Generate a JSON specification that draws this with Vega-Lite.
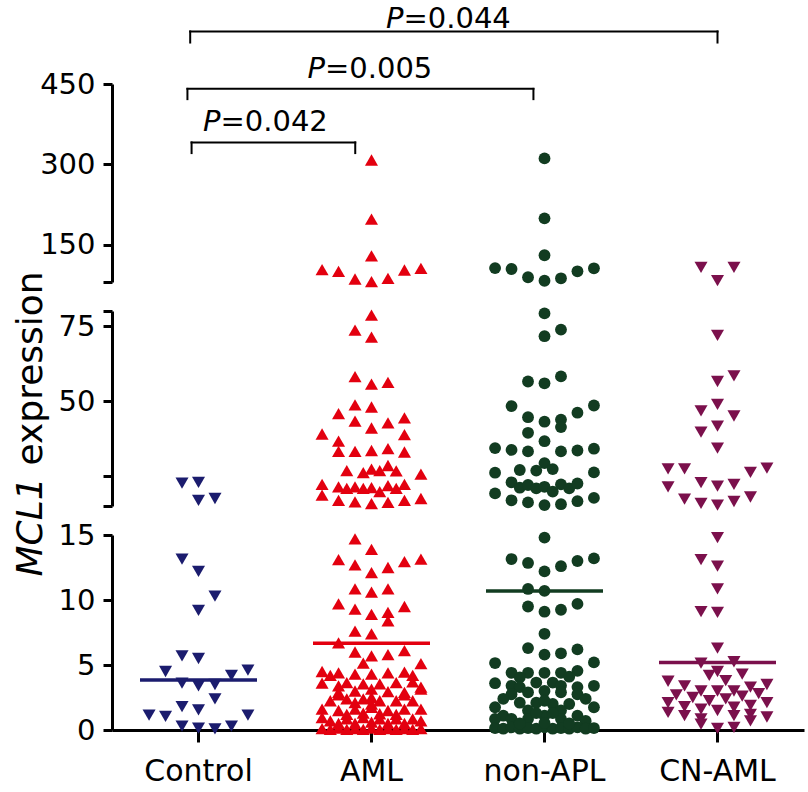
{
"$schema": "https://vega.github.io/schema/vega-lite/v6.json",
"padding": {"top": 4, "left": 12, "right": 5, "bottom": 5},
"background": "white",
"bounds": "flush",
"spacing": 29,
"datasets": {
"br": [
{"x1": 0.46, "x2": 1.406, "yh": 340.8, "yd": 320.9, "xt": 0.627, "yt": 361.9, "p": "=0.042"},
{"x1": 0.436, "x2": 2.436, "yh": 440.9, "yd": 421.7, "xt": 1.231, "yt": 460.9, "p": "=0.005"},
{"x1": 0.452, "x2": 3.5, "yh": 548.1, "yd": 527.5, "xt": 1.685, "yt": 555.5, "p": "=0.044"}
],
"med": [
{"g": "Control", "v": 3.85}, {"g": "AML", "v": 6.67}, {"g": "non-APL", "v": 10.7}, {"g": "CN-AML", "v": 5.2}
],
"pts": [
{"g":"Control","s":-1,"v":22.6},{"g":"Control","s":0,"v":22.9},{"g":"Control","s":0,"v":16.9},{"g":"Control","s":1,"v":17.5},
{"g":"Control","s":-1,"v":13.15},{"g":"Control","s":0,"v":12.2},{"g":"Control","s":1,"v":10.3},{"g":"Control","s":0,"v":9.2},
{"g":"Control","s":-1,"v":5.7},{"g":"Control","s":0,"v":5.5},{"g":"Control","s":-2,"v":4.5},{"g":"Control","s":3,"v":4.6},
{"g":"Control","s":2,"v":4.2},{"g":"Control","s":-1,"v":3.6},{"g":"Control","s":0,"v":3.4},{"g":"Control","s":1,"v":3.5},
{"g":"Control","s":1,"v":2.4},{"g":"Control","s":-1,"v":1.8},{"g":"Control","s":0,"v":1.55},{"g":"Control","s":-3,"v":1.15},
{"g":"Control","s":-2,"v":1.05},{"g":"Control","s":3,"v":1.15},{"g":"Control","s":-1,"v":0.3},{"g":"Control","s":0,"v":0.15},
{"g":"Control","s":1,"v":0.08},{"g":"Control","s":2,"v":0.3},

{"g":"AML","s":0,"v":308},{"g":"AML","s":0,"v":197.6},{"g":"AML","s":0,"v":129},{"g":"AML","s":-3,"v":103},{"g":"AML","s":-2,"v":100},
{"g":"AML","s":-1,"v":85.6},{"g":"AML","s":0,"v":80.6},{"g":"AML","s":1,"v":86.9},{"g":"AML","s":2,"v":102.4},{"g":"AML","s":3,"v":105.6},
{"g":"AML","s":0,"v":78.6},{"g":"AML","s":-1,"v":73.6},{"g":"AML","s":0,"v":71.3},{"g":"AML","s":-1,"v":58.1},{"g":"AML","s":0,"v":55.6},
{"g":"AML","s":1,"v":56.2},{"g":"AML","s":-1,"v":48.7},{"g":"AML","s":0,"v":48.0},{"g":"AML","s":-2,"v":45.8},{"g":"AML","s":-1,"v":43.3},
{"g":"AML","s":0,"v":41.0},{"g":"AML","s":1,"v":42.7},{"g":"AML","s":2,"v":44.4},{"g":"AML","s":-3,"v":39.0},{"g":"AML","s":2,"v":38.8},
{"g":"AML","s":-2,"v":36.6},{"g":"AML","s":-2,"v":33.2},{"g":"AML","s":-1,"v":33.2},{"g":"AML","s":0,"v":33.5},{"g":"AML","s":1,"v":34.1},
{"g":"AML","s":2,"v":33.0},{"g":"AML","s":-1.5,"v":26.8},{"g":"AML","s":-0.5,"v":26.1},{"g":"AML","s":0,"v":27.3},{"g":"AML","s":0.5,"v":26.8},
{"g":"AML","s":1,"v":28.5},{"g":"AML","s":1.5,"v":26.7},{"g":"AML","s":3,"v":25.6},{"g":"AML","s":-3,"v":22.2},{"g":"AML","s":-2,"v":21.4},
{"g":"AML","s":-1.5,"v":20.9},{"g":"AML","s":-1,"v":21.4},{"g":"AML","s":-0.5,"v":20.9},{"g":"AML","s":0,"v":21.1},{"g":"AML","s":0.5,"v":19.8},
{"g":"AML","s":1,"v":21.8},{"g":"AML","s":1.5,"v":20.9},{"g":"AML","s":2,"v":22.2},{"g":"AML","s":-3,"v":18.6},{"g":"AML","s":-2,"v":16.9},
{"g":"AML","s":-1,"v":16.4},{"g":"AML","s":0,"v":15.8},{"g":"AML","s":1,"v":16.2},{"g":"AML","s":2,"v":16.9},{"g":"AML","s":3,"v":17.5},
{"g":"AML","s":-1,"v":14.7},{"g":"AML","s":0,"v":13.9},{"g":"AML","s":-2,"v":13.1},{"g":"AML","s":-1,"v":12.7},{"g":"AML","s":0,"v":12.1},
{"g":"AML","s":1,"v":12.5},{"g":"AML","s":2,"v":12.95},{"g":"AML","s":3,"v":13.15},{"g":"AML","s":-1,"v":10.85},{"g":"AML","s":0,"v":10.6},
{"g":"AML","s":1,"v":10.85},{"g":"AML","s":-2,"v":9.7},{"g":"AML","s":-1,"v":9.3},{"g":"AML","s":0,"v":8.9},{"g":"AML","s":1,"v":9.05},
{"g":"AML","s":2,"v":9.5},{"g":"AML","s":1,"v":8.4},{"g":"AML","s":-1,"v":7.6},{"g":"AML","s":0,"v":7.4},{"g":"AML","s":-2,"v":6.7},
{"g":"AML","s":-1,"v":6.0},{"g":"AML","s":0,"v":5.7},{"g":"AML","s":1,"v":5.8},{"g":"AML","s":2,"v":6.1},{"g":"AML","s":-0.5,"v":5.15},
{"g":"AML","s":3,"v":5.1},
{"g":"AML","s":-3,"v":4.5},{"g":"AML","s":-2.5,"v":4.2},{"g":"AML","s":-2,"v":4.4},{"g":"AML","s":-1,"v":4.3},{"g":"AML","s":0,"v":4.3},
{"g":"AML","s":1,"v":4.4},{"g":"AML","s":2,"v":4.45},{"g":"AML","s":2.5,"v":4.2},
{"g":"AML","s":-3,"v":3.6},{"g":"AML","s":-2,"v":3.4},{"g":"AML","s":-1.5,"v":3.65},{"g":"AML","s":-0.5,"v":3.55},{"g":"AML","s":0.5,"v":3.55},
{"g":"AML","s":1.5,"v":3.65},{"g":"AML","s":2.5,"v":3.7},{"g":"AML","s":3,"v":3.3},
{"g":"AML","s":-2,"v":2.9},{"g":"AML","s":-1,"v":3.0},{"g":"AML","s":0,"v":3.15},{"g":"AML","s":1,"v":2.95},{"g":"AML","s":2,"v":2.9},{"g":"AML","s":3,"v":3.15},
{"g":"AML","s":-2.5,"v":2.25},{"g":"AML","s":-1.5,"v":2.4},{"g":"AML","s":-1,"v":2.1},{"g":"AML","s":-0.5,"v":2.4},{"g":"AML","s":0,"v":2.5},
{"g":"AML","s":0.5,"v":2.25},{"g":"AML","s":1.5,"v":2.25},{"g":"AML","s":2.5,"v":2.25},
{"g":"AML","s":-3,"v":1.6},{"g":"AML","s":-2,"v":1.5},{"g":"AML","s":-1,"v":1.6},{"g":"AML","s":0,"v":1.75},{"g":"AML","s":1,"v":1.5},
{"g":"AML","s":2,"v":1.6},{"g":"AML","s":3,"v":1.6},
{"g":"AML","s":-3,"v":0.95},{"g":"AML","s":-2.5,"v":0.7},{"g":"AML","s":-1.5,"v":0.85},{"g":"AML","s":-0.5,"v":0.95},{"g":"AML","s":0.5,"v":0.85},
{"g":"AML","s":1.5,"v":0.85},{"g":"AML","s":2.5,"v":0.85},{"g":"AML","s":3,"v":0.7},
{"g":"AML","s":-3,"v":0.1},{"g":"AML","s":-2.5,"v":0.05},{"g":"AML","s":-2,"v":0.15},{"g":"AML","s":-1.5,"v":0.05},{"g":"AML","s":-1,"v":0.1},
{"g":"AML","s":-0.5,"v":0.05},{"g":"AML","s":0,"v":0.15},{"g":"AML","s":0.5,"v":0.05},{"g":"AML","s":1,"v":0.1},{"g":"AML","s":1.5,"v":0.05},
{"g":"AML","s":2,"v":0.1},{"g":"AML","s":2.5,"v":0.05},{"g":"AML","s":3,"v":0.1},
{"g":"AML","s":-1.5,"v":1.2},{"g":"AML","s":0.5,"v":1.25},{"g":"AML","s":-0.5,"v":1.3},{"g":"AML","s":1.5,"v":1.2},{"g":"AML","s":-2,"v":2.7},
{"g":"AML","s":2,"v":2.7},{"g":"AML","s":0,"v":2.0},{"g":"AML","s":-1,"v":0.5},{"g":"AML","s":1,"v":0.5},{"g":"AML","s":0,"v":0.6},
{"g":"AML","s":-2,"v":0.5},{"g":"AML","s":2,"v":0.5},

{"g":"non-APL","s":0,"v":311},{"g":"non-APL","s":0,"v":199},{"g":"non-APL","s":0,"v":130},{"g":"non-APL","s":-3,"v":106},{"g":"non-APL","s":-2,"v":104.3},
{"g":"non-APL","s":-1,"v":88.8},{"g":"non-APL","s":0,"v":82.4},{"g":"non-APL","s":1,"v":86.9},{"g":"non-APL","s":2,"v":100},{"g":"non-APL","s":3,"v":105.6},
{"g":"non-APL","s":0,"v":79.2},{"g":"non-APL","s":1,"v":73.8},{"g":"non-APL","s":0,"v":71.6},{"g":"non-APL","s":-1,"v":56.5},{"g":"non-APL","s":0,"v":55.9},
{"g":"non-APL","s":1,"v":58.2},{"g":"non-APL","s":-2,"v":48.3},{"g":"non-APL","s":3,"v":48.5},{"g":"non-APL","s":-1,"v":44.6},{"g":"non-APL","s":0,"v":43.1},
{"g":"non-APL","s":1,"v":43.8},{"g":"non-APL","s":1,"v":41.3},{"g":"non-APL","s":2,"v":46.1},{"g":"non-APL","s":-1,"v":39.4},{"g":"non-APL","s":0,"v":36.6},
{"g":"non-APL","s":-3,"v":34.3},{"g":"non-APL","s":-2,"v":33.7},{"g":"non-APL","s":-1,"v":33.2},{"g":"non-APL","s":1,"v":33.2},{"g":"non-APL","s":2,"v":33.5},
{"g":"non-APL","s":3,"v":34.1},{"g":"non-APL","s":-3,"v":26.1},{"g":"non-APL","s":-1.5,"v":27.0},{"g":"non-APL","s":-0.5,"v":26.8},{"g":"non-APL","s":0,"v":29.3},
{"g":"non-APL","s":0.5,"v":27.3},{"g":"non-APL","s":3,"v":26.2},{"g":"non-APL","s":-2,"v":22.9},{"g":"non-APL","s":-1.5,"v":21.1},{"g":"non-APL","s":-1,"v":22.0},
{"g":"non-APL","s":-0.5,"v":20.9},{"g":"non-APL","s":0,"v":21.4},{"g":"non-APL","s":0.5,"v":19.8},{"g":"non-APL","s":1,"v":22.2},{"g":"non-APL","s":1.5,"v":20.9},
{"g":"non-APL","s":2,"v":22.5},{"g":"non-APL","s":-3,"v":19.2},{"g":"non-APL","s":-2,"v":16.9},{"g":"non-APL","s":-1,"v":16.2},{"g":"non-APL","s":0,"v":15.3},
{"g":"non-APL","s":1,"v":15.6},{"g":"non-APL","s":2,"v":16.6},{"g":"non-APL","s":3,"v":17.7},
{"g":"non-APL","s":0,"v":14.8},{"g":"non-APL","s":-2,"v":13.15},{"g":"non-APL","s":-1,"v":12.85},{"g":"non-APL","s":0,"v":12.2},{"g":"non-APL","s":1,"v":12.6},
{"g":"non-APL","s":2,"v":13.0},{"g":"non-APL","s":3,"v":13.2},{"g":"non-APL","s":-1,"v":10.85},{"g":"non-APL","s":0,"v":10.7},{"g":"non-APL","s":-1,"v":9.5},
{"g":"non-APL","s":0,"v":9.1},{"g":"non-APL","s":1,"v":9.25},{"g":"non-APL","s":2,"v":9.7},{"g":"non-APL","s":0,"v":7.4},{"g":"non-APL","s":-1,"v":6.3},
{"g":"non-APL","s":0,"v":5.8},{"g":"non-APL","s":1,"v":5.9},{"g":"non-APL","s":2,"v":6.2},{"g":"non-APL","s":-3,"v":5.15},{"g":"non-APL","s":3,"v":5.2},
{"g":"non-APL","s":-2,"v":4.4},{"g":"non-APL","s":-1,"v":4.4},{"g":"non-APL","s":0,"v":4.4},{"g":"non-APL","s":1,"v":4.4},{"g":"non-APL","s":2,"v":4.55},
{"g":"non-APL","s":-1.5,"v":4.05},{"g":"non-APL","s":1.5,"v":4.1},
{"g":"non-APL","s":-3,"v":3.6},{"g":"non-APL","s":-2,"v":3.4},{"g":"non-APL","s":-0.5,"v":3.65},{"g":"non-APL","s":0.5,"v":3.65},{"g":"non-APL","s":1,"v":3.4},
{"g":"non-APL","s":3,"v":3.4},{"g":"non-APL","s":-1.5,"v":3.3},{"g":"non-APL","s":2,"v":3.3},
{"g":"non-APL","s":-2,"v":2.75},{"g":"non-APL","s":-1,"v":2.9},{"g":"non-APL","s":0,"v":3.0},{"g":"non-APL","s":1,"v":2.9},{"g":"non-APL","s":2,"v":2.75},
{"g":"non-APL","s":-2.5,"v":2.4},{"g":"non-APL","s":2.5,"v":2.4},
{"g":"non-APL","s":-3,"v":1.75},{"g":"non-APL","s":-1.5,"v":2.1},{"g":"non-APL","s":-0.5,"v":2.1},{"g":"non-APL","s":0.5,"v":2.0},{"g":"non-APL","s":1.5,"v":2.0},
{"g":"non-APL","s":3,"v":1.75},{"g":"non-APL","s":-1,"v":1.5},{"g":"non-APL","s":1,"v":1.5},{"g":"non-APL","s":0,"v":2.25},
{"g":"non-APL","s":-2.5,"v":1.1},{"g":"non-APL","s":-2,"v":0.85},{"g":"non-APL","s":-1,"v":0.85},{"g":"non-APL","s":0,"v":1.1},{"g":"non-APL","s":1,"v":0.85},
{"g":"non-APL","s":2,"v":1.1},{"g":"non-APL","s":2.5,"v":0.7},{"g":"non-APL","s":-3,"v":0.85},
{"g":"non-APL","s":-3,"v":0.15},{"g":"non-APL","s":-2.5,"v":0.1},{"g":"non-APL","s":-2,"v":0.2},{"g":"non-APL","s":-1.5,"v":0.1},{"g":"non-APL","s":-1,"v":0.15},
{"g":"non-APL","s":-0.5,"v":0.1},{"g":"non-APL","s":0,"v":0.2},{"g":"non-APL","s":0.5,"v":0.1},{"g":"non-APL","s":1,"v":0.15},{"g":"non-APL","s":1.5,"v":0.1},
{"g":"non-APL","s":2,"v":0.2},{"g":"non-APL","s":2.5,"v":0.1},{"g":"non-APL","s":3,"v":0.15},
{"g":"non-APL","s":-0.5,"v":1.3},{"g":"non-APL","s":0.5,"v":1.3},{"g":"non-APL","s":-1.5,"v":0.5},{"g":"non-APL","s":1.5,"v":0.5},{"g":"non-APL","s":0,"v":0.55},

{"g":"CN-AML","s":-1,"v":107.4},{"g":"CN-AML","s":1,"v":107.4},{"g":"CN-AML","s":0,"v":82.4},
{"g":"CN-AML","s":0,"v":71.9},{"g":"CN-AML","s":0,"v":56.5},{"g":"CN-AML","s":1,"v":58.4},{"g":"CN-AML","s":0,"v":48.9},{"g":"CN-AML","s":-1,"v":46.7},
{"g":"CN-AML","s":1,"v":45.0},{"g":"CN-AML","s":0,"v":41.6},{"g":"CN-AML","s":-1,"v":39.6},{"g":"CN-AML","s":0,"v":34.3},{"g":"CN-AML","s":-3,"v":27.4},
{"g":"CN-AML","s":-2,"v":27.4},{"g":"CN-AML","s":2,"v":26.2},{"g":"CN-AML","s":3,"v":27.6},{"g":"CN-AML","s":-3,"v":21.4},{"g":"CN-AML","s":-1,"v":22.8},
{"g":"CN-AML","s":0,"v":21.6},{"g":"CN-AML","s":1,"v":22.2},{"g":"CN-AML","s":-2,"v":17.3},{"g":"CN-AML","s":-1,"v":15.9},{"g":"CN-AML","s":0,"v":15.3},
{"g":"CN-AML","s":1,"v":16.5},{"g":"CN-AML","s":2,"v":18.0},
{"g":"CN-AML","s":0,"v":14.8},{"g":"CN-AML","s":-1,"v":13.1},{"g":"CN-AML","s":0,"v":12.6},{"g":"CN-AML","s":0,"v":10.85},{"g":"CN-AML","s":-1,"v":9.1},
{"g":"CN-AML","s":0,"v":9.05},{"g":"CN-AML","s":0,"v":6.3},{"g":"CN-AML","s":-1,"v":5.15},{"g":"CN-AML","s":1,"v":5.25},
{"g":"CN-AML","s":-0.5,"v":4.2},{"g":"CN-AML","s":0,"v":4.5},{"g":"CN-AML","s":0.5,"v":3.8},{"g":"CN-AML","s":1.5,"v":4.3},
{"g":"CN-AML","s":-3,"v":3.75},{"g":"CN-AML","s":-2,"v":3.4},{"g":"CN-AML","s":-1,"v":3.0},{"g":"CN-AML","s":0,"v":3.0},{"g":"CN-AML","s":1,"v":3.0},
{"g":"CN-AML","s":2,"v":3.3},{"g":"CN-AML","s":3,"v":3.5},{"g":"CN-AML","s":2.5,"v":2.8},
{"g":"CN-AML","s":-2.5,"v":2.7},{"g":"CN-AML","s":-1.5,"v":2.5},{"g":"CN-AML","s":-0.5,"v":2.25},{"g":"CN-AML","s":0.5,"v":2.4},{"g":"CN-AML","s":1.5,"v":2.6},
{"g":"CN-AML","s":-3,"v":2.1},{"g":"CN-AML","s":-2,"v":1.8},{"g":"CN-AML","s":-1,"v":1.6},{"g":"CN-AML","s":0,"v":1.5},{"g":"CN-AML","s":1,"v":1.75},
{"g":"CN-AML","s":2,"v":1.9},{"g":"CN-AML","s":3,"v":2.1},
{"g":"CN-AML","s":-3,"v":1.35},{"g":"CN-AML","s":-2,"v":1.1},{"g":"CN-AML","s":-1,"v":0.85},{"g":"CN-AML","s":1,"v":1.1},{"g":"CN-AML","s":2,"v":1.2},
{"g":"CN-AML","s":3,"v":1.0},{"g":"CN-AML","s":-1,"v":0.45},{"g":"CN-AML","s":0,"v":0.13},{"g":"CN-AML","s":1,"v":0.2},{"g":"CN-AML","s":2,"v":0.7}
]
},
"vconcat": [
{
"width": 692, "height": 198,
"layer": [
{
"data": {"name": "pts"},
"transform": [{"filter": "datum.v >= 80"}],
"mark": {"type": "point", "filled": true, "opacity": 1, "strokeWidth": 0},
"encoding": {
"x": {"field": "g", "type": "nominal", "scale": {"type": "band", "domain": ["Control", "AML", "non-APL", "CN-AML"], "paddingInner": 0, "paddingOuter": 0}, "axis": null},
"xOffset": {"field": "s", "type": "quantitative", "scale": {"domain": [-5.25, 5.25], "range": [0, 173]}},
"y": {"field": "v", "type": "quantitative", "scale": {"domain": [80, 450], "nice": false, "zero": false},
"axis": {"title": null, "values": [80, 150, 300, 450], "labelExpr": "datum.value == 80 ? '' : datum.label", "tickSize": 9, "labelFontSize": 29, "labelPadding": 8, "labelFlush": false}},
"color": {"field": "g", "type": "nominal", "scale": {"domain": ["Control", "AML", "non-APL", "CN-AML"], "range": ["#1b1c6e", "#e3000f", "#123c21", "#7b104c"]}, "legend": null},
"shape": {"field": "g", "type": "nominal", "scale": {"domain": ["Control", "AML", "non-APL", "CN-AML"], "range": ["triangle-down", "triangle-up", "circle", "triangle-down"]}, "legend": null},
"size": {"condition": {"test": "datum.g === 'non-APL'", "value": 140}, "value": 170}
}
},
{
"data": {"name": "br"},
"layer": [
{"mark": {"type": "rule", "color": "black", "strokeWidth": 2, "strokeCap": "square"},
"encoding": {"x": {"field": "x1", "type": "quantitative", "scale": {"domain": [0, 4], "nice": false, "zero": false}, "axis": null}, "x2": {"field": "x2"},
"y": {"field": "yh", "type": "quantitative", "scale": {"domain": [80, 450], "nice": false, "zero": false}, "axis": null}}},
{"mark": {"type": "rule", "color": "black", "strokeWidth": 2, "strokeCap": "square"},
"encoding": {"x": {"field": "x1", "type": "quantitative", "scale": {"domain": [0, 4], "nice": false, "zero": false}, "axis": null},
"y": {"field": "yh", "type": "quantitative", "scale": {"domain": [80, 450], "nice": false, "zero": false}, "axis": null}, "y2": {"field": "yd"}}},
{"mark": {"type": "rule", "color": "black", "strokeWidth": 2, "strokeCap": "square"},
"encoding": {"x": {"field": "x2", "type": "quantitative", "scale": {"domain": [0, 4], "nice": false, "zero": false}, "axis": null},
"y": {"field": "yh", "type": "quantitative", "scale": {"domain": [80, 450], "nice": false, "zero": false}, "axis": null}, "y2": {"field": "yd"}}},
{"mark": {"type": "text", "align": "right", "baseline": "alphabetic", "fontSize": 29, "fontStyle": "italic", "font": "DejaVu Sans", "color": "black", "text": "P"},
"encoding": {"x": {"field": "xt", "type": "quantitative", "scale": {"domain": [0, 4], "nice": false, "zero": false}, "axis": null},
"y": {"field": "yt", "type": "quantitative", "scale": {"domain": [80, 450], "nice": false, "zero": false}, "axis": null}}},
{"mark": {"type": "text", "align": "left", "baseline": "alphabetic", "fontSize": 29, "font": "DejaVu Sans", "color": "black"},
"encoding": {"x": {"field": "xt", "type": "quantitative", "scale": {"domain": [0, 4], "nice": false, "zero": false}, "axis": null},
"y": {"field": "yt", "type": "quantitative", "scale": {"domain": [80, 450], "nice": false, "zero": false}, "axis": null},
"text": {"field": "p"}}}
]
}
],
"resolve": {"scale": {"x": "independent", "y": "independent"}, "axis": {"x": "independent", "y": "independent"}}
},
{
"width": 692, "height": 195,
"data": {"name": "pts"},
"transform": [{"filter": "datum.v >= 15 && datum.v < 80"}],
"layer": [
{
"mark": {"type": "point", "filled": true, "opacity": 1, "strokeWidth": 0},
"encoding": {
"x": {"field": "g", "type": "nominal", "scale": {"type": "band", "domain": ["Control", "AML", "non-APL", "CN-AML"], "paddingInner": 0, "paddingOuter": 0}, "axis": null},
"xOffset": {"field": "s", "type": "quantitative", "scale": {"domain": [-5.25, 5.25], "range": [0, 173]}},
"y": {"field": "v", "type": "quantitative", "scale": {"domain": [15, 80], "nice": false, "zero": false},
"axis": {"orient": "left", "title": "MCL1", "values": [15, 25, 50, 75, 80], "labelExpr": "datum.value == 50 || datum.value == 75 ? datum.label : ''", "tickSize": 9, "labelFontSize": 29, "labelPadding": 8, "labelFlush": false,
"titleFontSize": 36, "titleFontStyle": "italic", "titleFontWeight": "normal", "titleAngle": 270, "titleAlign": "left", "titleBaseline": "bottom", "titleX": -63, "titleY": 265}},
"color": {"field": "g", "type": "nominal", "scale": {"domain": ["Control", "AML", "non-APL", "CN-AML"], "range": ["#1b1c6e", "#e3000f", "#123c21", "#7b104c"]}, "legend": null},
"shape": {"field": "g", "type": "nominal", "scale": {"domain": ["Control", "AML", "non-APL", "CN-AML"], "range": ["triangle-down", "triangle-up", "circle", "triangle-down"]}, "legend": null},
"size": {"condition": {"test": "datum.g === 'non-APL'", "value": 140}, "value": 170}
}
},
{
"mark": {"type": "point", "opacity": 0, "size": 1},
"encoding": {
"x": {"field": "g", "type": "nominal", "scale": {"type": "band", "domain": ["Control", "AML", "non-APL", "CN-AML"], "paddingInner": 0, "paddingOuter": 0}, "axis": null},
"y": {"field": "v", "type": "quantitative", "scale": {"domain": [15, 80], "nice": false, "zero": false},
"axis": {"orient": "right", "title": "expression", "domain": false, "ticks": false, "labels": false,
"titleFontSize": 36, "titleFontStyle": "normal", "titleFontWeight": "normal", "titleAngle": 270, "titleAlign": "left", "titleBaseline": "bottom", "titleX": -755, "titleY": 154}}
}
}
],
"resolve": {"axis": {"y": "independent"}}
},
{
"width": 692, "height": 195,
"layer": [
{
"data": {"name": "pts"},
"transform": [{"filter": "datum.v < 15"}],
"mark": {"type": "point", "filled": true, "opacity": 1, "strokeWidth": 0},
"encoding": {
"x": {"field": "g", "type": "nominal", "scale": {"type": "band", "domain": ["Control", "AML", "non-APL", "CN-AML"], "paddingInner": 0, "paddingOuter": 0},
"axis": {"title": null, "labelAngle": 0, "tickSize": 12, "labelFontSize": 30, "labelPadding": 14}},
"xOffset": {"field": "s", "type": "quantitative", "scale": {"domain": [-5.25, 5.25], "range": [0, 173]}},
"y": {"field": "v", "type": "quantitative", "scale": {"domain": [0, 15], "nice": false, "zero": false},
"axis": {"title": null, "values": [0, 5, 10, 15], "tickSize": 9, "labelFontSize": 29, "labelPadding": 8, "labelFlush": false}},
"color": {"field": "g", "type": "nominal", "scale": {"domain": ["Control", "AML", "non-APL", "CN-AML"], "range": ["#1b1c6e", "#e3000f", "#123c21", "#7b104c"]}, "legend": null},
"shape": {"field": "g", "type": "nominal", "scale": {"domain": ["Control", "AML", "non-APL", "CN-AML"], "range": ["triangle-down", "triangle-up", "circle", "triangle-down"]}, "legend": null},
"size": {"condition": {"test": "datum.g === 'non-APL'", "value": 140}, "value": 170}
}
},
{
"data": {"name": "med"},
"mark": {"type": "tick", "size": 117, "thickness": 3.5, "opacity": 1},
"encoding": {
"x": {"field": "g", "type": "nominal"},
"y": {"field": "v", "type": "quantitative"},
"color": {"field": "g", "type": "nominal", "legend": null}
}
}
]
}
],
"config": {
"view": {"stroke": null},
"font": "DejaVu Sans",
"axis": {"domainColor": "black", "tickColor": "black", "labelColor": "black", "titleColor": "black", "domainWidth": 3, "tickWidth": 3, "grid": false, "labelFont": "DejaVu Sans", "titleFont": "DejaVu Sans"}
}
}
